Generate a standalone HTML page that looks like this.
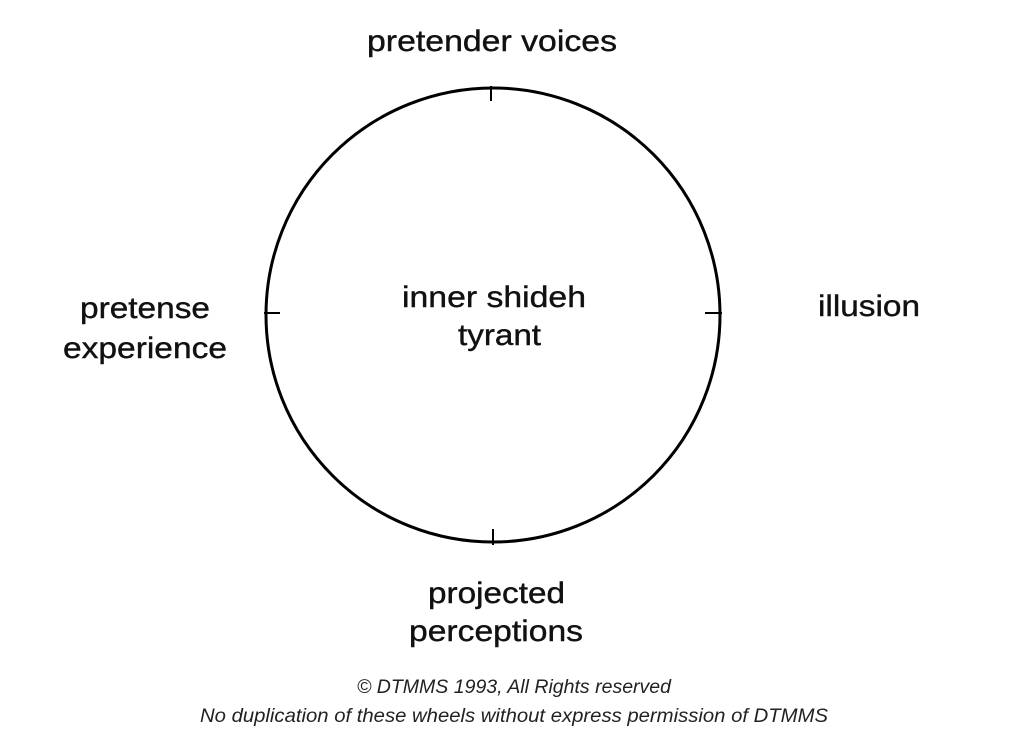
<!DOCTYPE html>
<html><head><style>html,body{margin:0;padding:0;background:#fff;}svg{display:block}</style></head>
<body>
<svg width="1024" height="746" viewBox="0 0 1024 746" xmlns="http://www.w3.org/2000/svg">
<circle cx="493" cy="315" r="227" fill="none" stroke="#000" stroke-width="3"/>
<g stroke="#000" stroke-width="2">
<line x1="491" y1="86" x2="491" y2="101"/>
<line x1="493" y1="529" x2="493" y2="545"/>
<line x1="264" y1="313" x2="280" y2="313"/>
<line x1="705" y1="313" x2="722" y2="313"/>
</g>
<g font-family="Liberation Sans, sans-serif" font-size="30" fill="#111" stroke="#111" stroke-width="0.4">
<text x="367" y="51" textLength="250" lengthAdjust="spacingAndGlyphs">pretender voices</text>
<text x="402" y="307" textLength="184" lengthAdjust="spacingAndGlyphs">inner shideh</text>
<text x="458" y="345" textLength="83" lengthAdjust="spacingAndGlyphs">tyrant</text>
<text x="80" y="318" textLength="130" lengthAdjust="spacingAndGlyphs">pretense</text>
<text x="63" y="358" textLength="164" lengthAdjust="spacingAndGlyphs">experience</text>
<text x="818" y="316" textLength="102" lengthAdjust="spacingAndGlyphs">illusion</text>
<text x="428" y="603" textLength="137" lengthAdjust="spacingAndGlyphs">projected</text>
<text x="409" y="641" textLength="174" lengthAdjust="spacingAndGlyphs">perceptions</text>
</g>
<g font-family="Liberation Sans, sans-serif" font-style="italic" font-size="19" fill="#222">
<text x="357" y="693" textLength="314" lengthAdjust="spacingAndGlyphs">© DTMMS 1993, All Rights reserved</text>
<text x="200" y="722" textLength="628" lengthAdjust="spacingAndGlyphs">No duplication of these wheels without express permission of DTMMS</text>
</g>
</svg>
</body></html>
